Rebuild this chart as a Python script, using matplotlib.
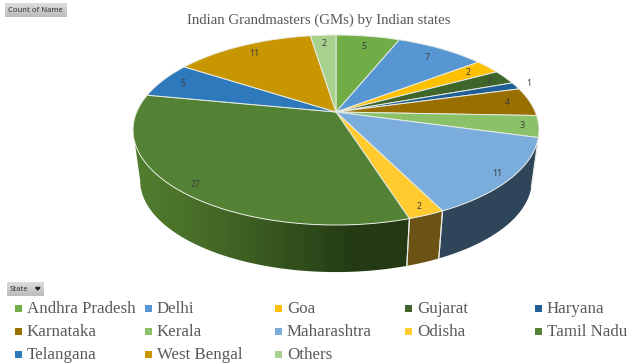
import numpy as np
import matplotlib
matplotlib.use("Agg")
import matplotlib.pyplot as plt
from matplotlib.patches import Polygon, Rectangle

states = ["Andhra Pradesh", "Delhi", "Goa", "Gujarat", "Haryana", "Karnataka", "Kerala",
          "Maharashtra", "Odisha", "Tamil Nadu", "Telangana", "West Bengal", "Others"]
counts = [5, 7, 2, 2, 1, 4, 3, 11, 2, 27, 5, 11, 2]
colors = ["#70AD47", "#5596D3", "#FFC000", "#40652A", "#1F5E96", "#997000", "#8BC168",
          "#7AADDC", "#FFCB2F", "#548235", "#2E78BC", "#C89600", "#A9D18E"]
label_radius = [0.85, 0.85, 0.86, 0.90, 1.08, 0.88, 0.92, 0.93, 0.93, 0.92, 0.88, 0.86, 0.88]
title = "Indian Grandmasters (GMs) by Indian states"

# projected-disc geometry, in pixels
CX, TOP_Y, BOT_Y = 336.0, 112.0, 163.0
A, B, K = 199.3, 91.6, 0.1895
SHRINK = 0.965
EDGE = "#E8EBE4"

def project(theta, r=1.0, bottom=False):
    u, v = r * np.sin(theta), r * np.cos(theta)
    s = SHRINK if bottom else 1.0
    y0 = BOT_Y if bottom else TOP_Y
    d = 1 + K * v
    return CX + s * A * u / d, y0 - s * B * v / d

def mix(c1, c2, t):
    a, b = np.array(matplotlib.colors.to_rgb(c1)), np.array(matplotlib.colors.to_rgb(c2))
    return a + (b - a) * t

fig = plt.figure(figsize=(6.4, 3.64), dpi=100, facecolor="white")
ax = fig.add_axes([0, 0, 1, 1])
ax.set_xlim(0, 640)
ax.set_ylim(364, 0)
ax.axis("off")

edges = np.concatenate([[0], np.cumsum(counts)]) / sum(counts) * 2 * np.pi
# the wall is visible between the two silhouette points of the projected disc
VIS_START = np.arccos(-K)
VIS_END = 2 * np.pi - np.arccos(-K)

wall_shades = {7: ("#2F4559", "#2F4559"), 8: ("#6B5316", "#6B5316"), 9: ("#233A14", "#527D2E")}

for i in range(len(counts)):
    t0, t1 = edges[i], edges[i + 1]
    if i in wall_shades:
        a0, a1 = max(t0, VIS_START), min(t1, VIS_END)
        ang = np.linspace(a0, a1, 200)
        xt, yt = project(ang)
        xb, yb = project(ang, bottom=True)
        outline = np.r_[np.c_[xt, yt], np.c_[xb, yb][::-1]]
        if i == 9:
            wall = Polygon(outline, closed=True, fc="none", ec="none", zorder=2)
            ax.add_patch(wall)
            ramp = np.linspace(0, 1, 256)
            ramp = np.minimum(1.0, ramp ** 1.2 * 1.3)
            grad = np.array([mix(wall_shades[i][1], wall_shades[i][0], f) for f in ramp])[None, :, :]
            left, right = min(xt.min(), xb.min()), max(xt.max(), xb.max())
            im = ax.imshow(grad, extent=(left, right, 280, 100), aspect="auto", zorder=2)
            im.set_clip_path(wall)
        else:
            ax.add_patch(Polygon(outline, closed=True, fc=wall_shades[i][0], ec="none", zorder=2))
        for e in (t0, t1):
            if VIS_START < e < VIS_END:
                xt, yt = project(e)
                xb, yb = project(e, bottom=True)
                ax.plot([xt, xb], [yt, yb], color=EDGE, lw=0.8, zorder=3)

for i in range(len(counts)):
    ang = np.linspace(edges[i], edges[i + 1], 80)
    x, y = project(ang)
    x0, y0 = project(0.0, 0.0)
    pts = np.r_[[[x0, y0]], np.c_[x, y]]
    ax.add_patch(Polygon(pts, closed=True, fc=colors[i], ec=EDGE, lw=0.7, zorder=4, joinstyle="round"))
    m = 0.5 * (edges[i] + edges[i + 1])
    lx, ly = project(m, label_radius[i])
    ax.text(lx, ly, str(counts[i]), fontsize=6.4, family="Noto Sans", color="#404040",
            ha="center", va="center", zorder=5)

ax.text(318.5, 20, title, fontsize=10.7, family="Liberation Serif", color="#595959",
        ha="center", va="center")

# pivot field buttons
def button(x, y, w, h, text, tx):
    grad = np.linspace(0.86, 0.74, 20).reshape(-1, 1)
    ax.imshow(grad, extent=(x, x + w, y + h, y), cmap="gray", vmin=0, vmax=1, aspect="auto", zorder=1)
    ax.text(tx, y + h / 2 + 0.3, text, fontsize=5.5, family="Noto Sans", color="#333333",
            ha="left", va="center", zorder=2)

button(5, 3, 62, 14, "Count of Name", 8)
button(7, 282, 37, 14, "State", 10)
ax.fill([35.5, 40, 37.75], [287.5, 287.5, 290], color="#222222", zorder=3)
ax.set_xlim(0, 640)
ax.set_ylim(364, 0)

# legend
col_x = [15, 145, 275, 405, 535]
row_y = [308, 331, 354]
for i, name in enumerate(states):
    r, c = divmod(i, 5)
    ax.add_patch(Rectangle((col_x[c], row_y[r] - 3), 7, 6.5, fc=colors[i], ec="none"))
    ax.text(col_x[c] + 12, row_y[r] + 1.2, name, fontsize=12.2, family="Liberation Serif", color="#595959",
            ha="left", va="center")

fig.savefig("out.png", dpi=100)
